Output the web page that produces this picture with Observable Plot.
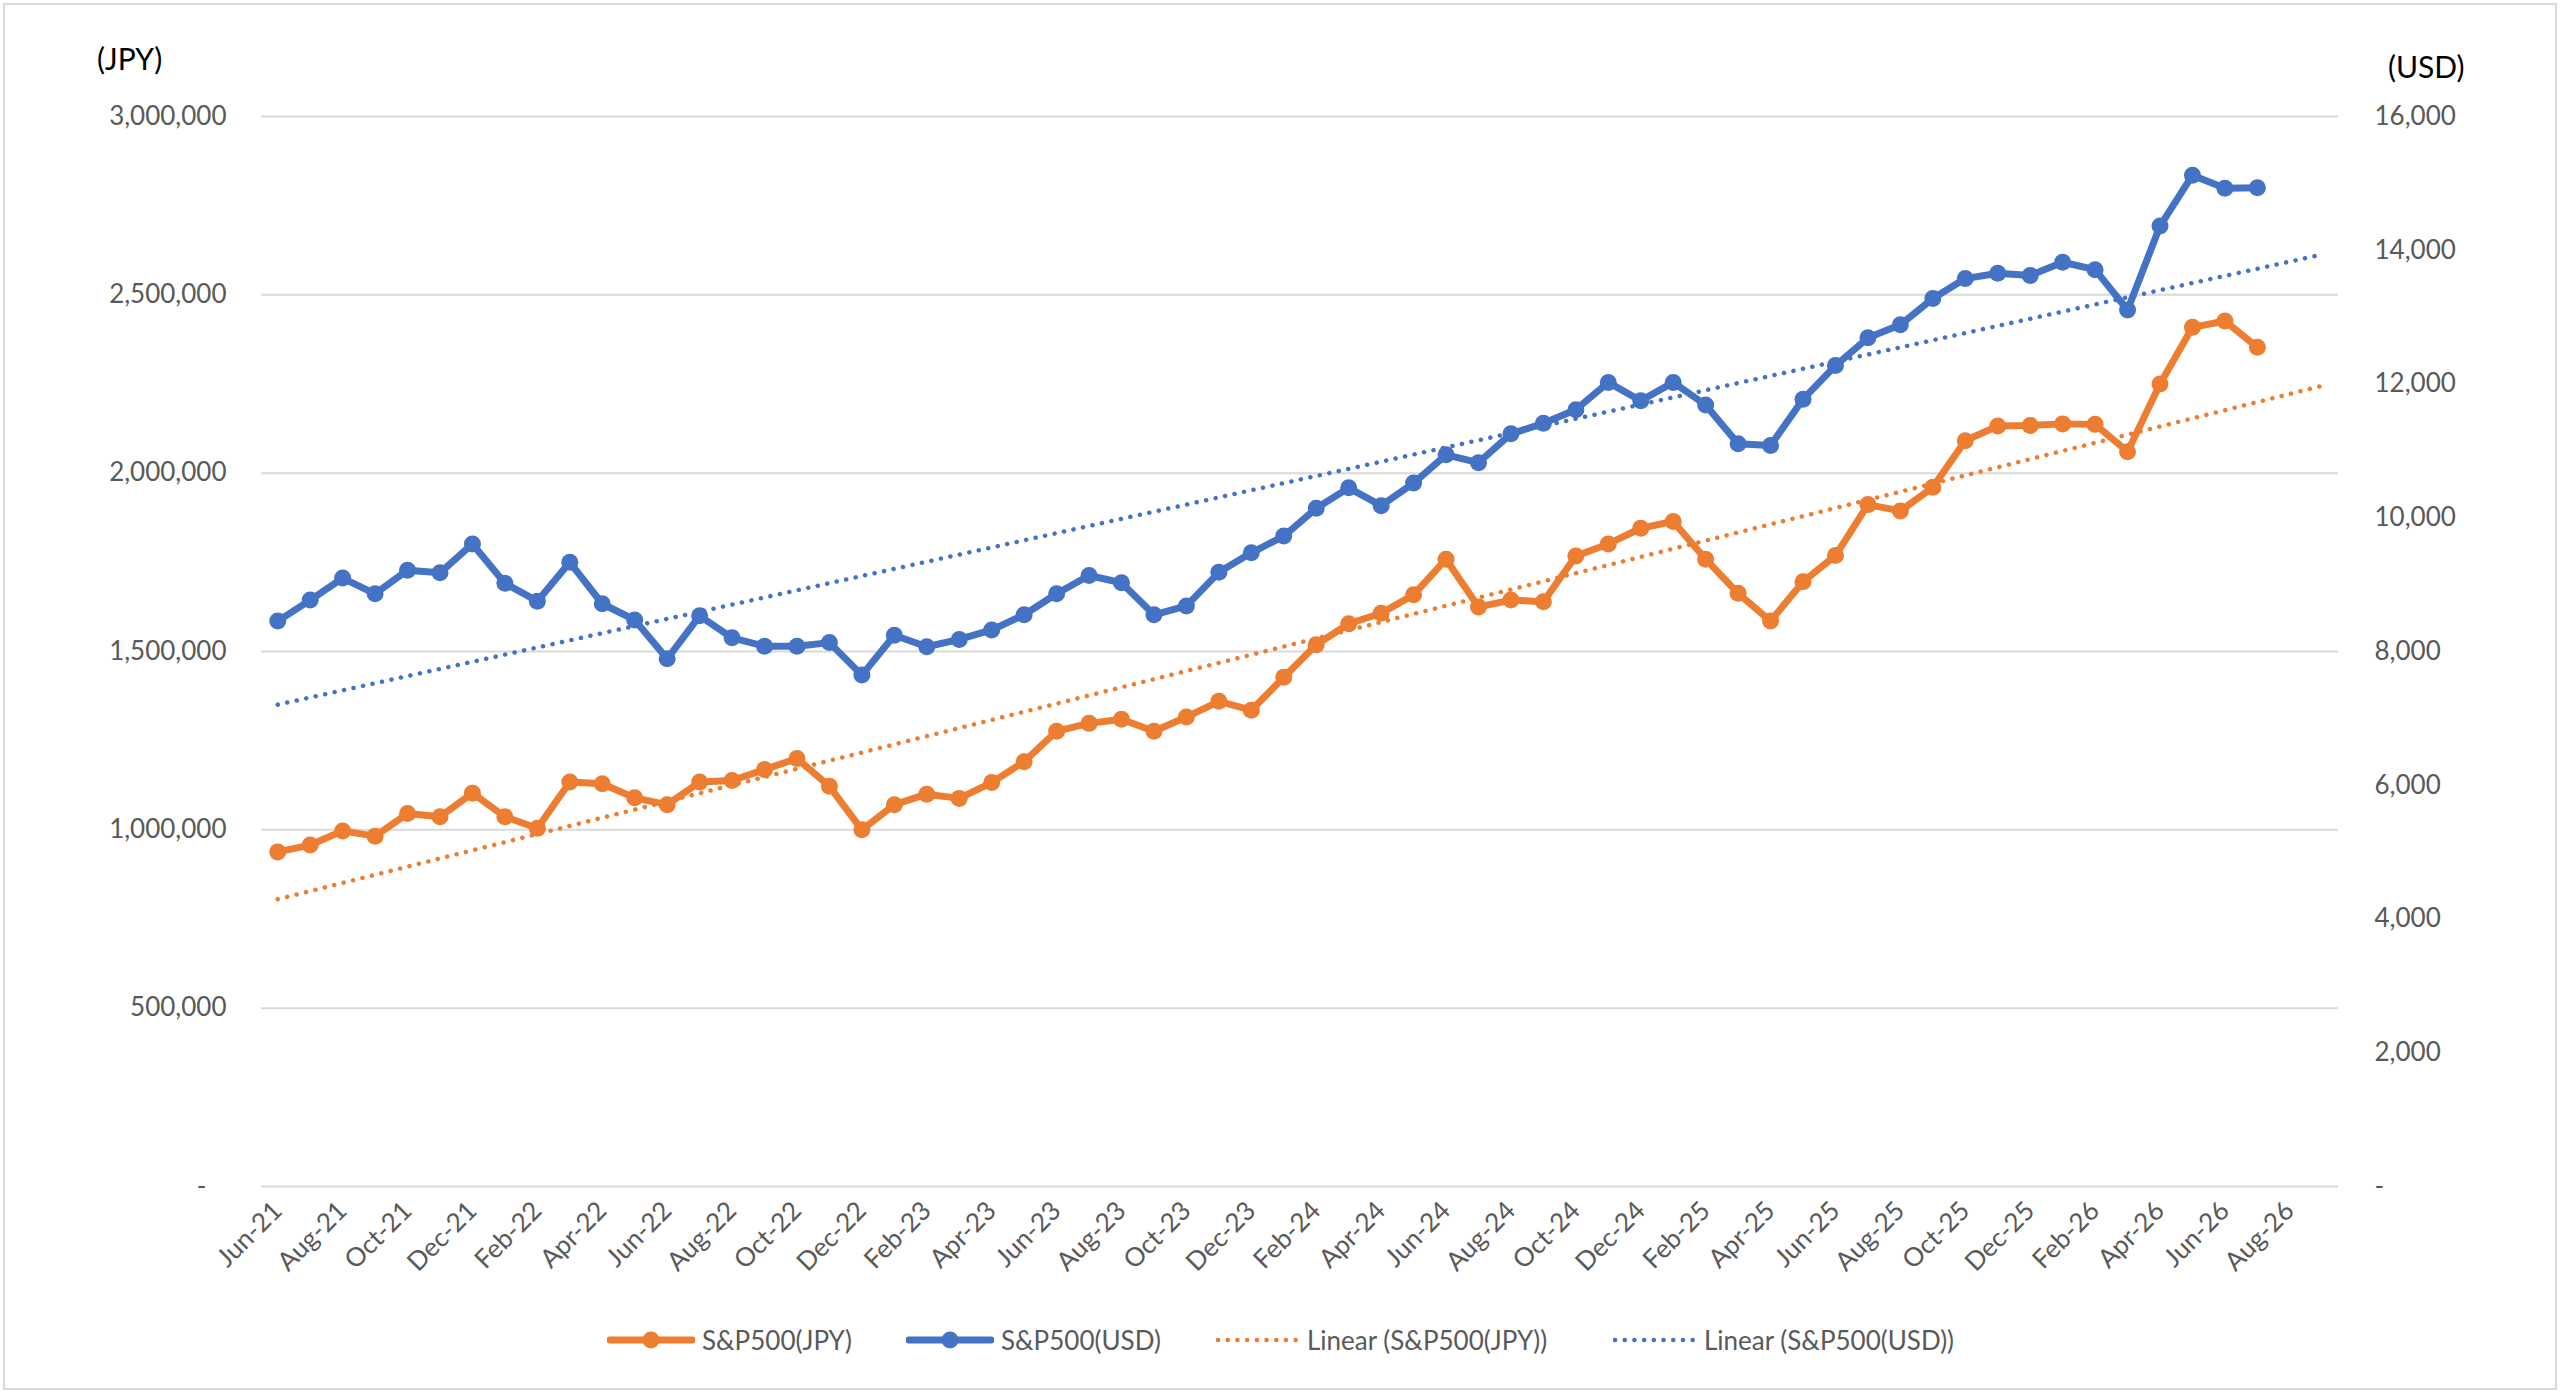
<!DOCTYPE html>
<html>
<head>
<meta charset="utf-8">
<script src="https://cdn.jsdelivr.net/npm/d3@7"></script>
<script src="https://cdn.jsdelivr.net/npm/@observablehq/plot@0.6"></script>
<style>
  html, body { margin: 0; padding: 0; background: #fff; overflow: hidden; }
  #wrap { position: relative; width: 2560px; height: 1391px; font-family: Lato, "Open Sans", sans-serif; }
  #frame { position: absolute; left: 3px; top: 3px; width: 2550px; height: 1383px; border: 2px solid #d9d9d9; pointer-events: none; }
  #chart { position: absolute; left: 0; top: 0; }
  .unit { position: absolute; font-size: 30px; color: #000; line-height: 1; }
  .leg { position: absolute; top: 1323px; height: 34px; display: flex; align-items: center; font-size: 26px; color: #595959; white-space: nowrap; }
  .leg svg { margin-right: 7px; }
</style>
</head>
<body>
<div id="wrap">
  <div id="chart"></div>
  <div class="unit" style="left:97px; top:43px;">(JPY)</div>
  <div class="unit" style="left:2388px; top:51px;">(USD)</div>
  <div id="legend"></div>
  <div id="frame"></div>
</div>
<script>
// Categories (monthly, Jun-21 .. Sep-26)
const months = ["Jun-21","Jul-21","Aug-21","Sep-21","Oct-21","Nov-21","Dec-21","Jan-22","Feb-22","Mar-22","Apr-22","May-22",
  "Jun-22","Jul-22","Aug-22","Sep-22","Oct-22","Nov-22","Dec-22","Jan-23","Feb-23","Mar-23","Apr-23","May-23",
  "Jun-23","Jul-23","Aug-23","Sep-23","Oct-23","Nov-23","Dec-23","Jan-24","Feb-24","Mar-24","Apr-24","May-24",
  "Jun-24","Jul-24","Aug-24","Sep-24","Oct-24","Nov-24","Dec-24","Jan-25","Feb-25","Mar-25","Apr-25","May-25",
  "Jun-25","Jul-25","Aug-25","Sep-25","Oct-25","Nov-25","Dec-25","Jan-26","Feb-26","Mar-26","Apr-26","May-26",
  "Jun-26","Jul-26","Aug-26","Sep-26"];

// S&P500 in JPY (left axis)
const jpy = [938200, 957300, 997000, 982300, 1045600, 1036700, 1102900, 1036700, 1004400, 1133800, 1129400, 1089700,
  1070600, 1133800, 1138200, 1169100, 1200000, 1122000, 1000000, 1070600, 1100000, 1088200, 1132400, 1191200,
  1276500, 1298500, 1310300, 1276500, 1316200, 1360300, 1335300, 1427900, 1519100, 1577900, 1607300, 1658800,
  1758800, 1625000, 1644100, 1639700, 1767600, 1801500, 1845600, 1864700, 1758800, 1663200, 1585300, 1695600,
  1769100, 1911800, 1894100, 1960300, 2091200, 2132400, 2133800, 2138200, 2136800, 2060300, 2250000, 2408800,
  2426500, 2352900];

// S&P500 in USD (right axis)
const usd = [8455, 8769, 9098, 8863, 9216, 9177, 9608, 9020, 8753, 9333, 8714, 8471,
  7890, 8533, 8204, 8079, 8079, 8133, 7647, 8243, 8071, 8181, 8322, 8549,
  8863, 9137, 9028, 8549, 8682, 9184, 9475, 9726, 10141, 10447, 10181, 10518,
  10941, 10824, 11255, 11412, 11616, 12024, 11749, 12024, 11686, 11106, 11082, 11773,
  12275, 12690, 12886, 13278, 13576, 13655, 13624, 13820, 13710, 13106, 14361, 15122,
  14926, 14933];

// Axis ticks
const leftTicks = [0, 500000, 1000000, 1500000, 2000000, 2500000, 3000000];
const rightTicks = [0, 2000, 4000, 6000, 8000, 10000, 12000, 14000, 16000];
const xTickLabels = months.filter((d, i) => i % 2 === 0);

const seriesNames = ["S&P500(JPY)", "S&P500(USD)", "Linear (S&P500(JPY))", "Linear (S&P500(USD))"];
const colors = ["#ED7D31", "#4472C4"];

// right axis maps 0..16,000 USD onto 0..3,000,000 JPY
const K = 3000000 / 16000;

const data = jpy.map((v, i) => ({m: months[i], jpy: v, usd: usd[i]}));

// least-squares trend, extended across the whole category axis
function trend(vals) {
  const xs = d3.range(vals.length);
  const mx = d3.mean(xs), my = d3.mean(vals);
  const b = d3.sum(xs, (x, i) => (x - mx) * (vals[i] - my)) / d3.sum(xs, x => (x - mx) ** 2);
  const a = my - b * mx;
  return [0, months.length - 1].map(i => ({m: months[i], v: a + b * i}));
}
const trendJ = trend(jpy);
const trendU = trend(usd).map(d => ({m: d.m, v: d.v * K}));

const fmt = d3.format(",");
const dotted = {strokeWidth: 4.5, strokeDasharray: "0.1 9.6", strokeLinecap: "round"};

const chart = Plot.plot({
  width: 2560,
  height: 1290,
  marginTop: 116,
  marginBottom: 104,
  marginLeft: 261,
  marginRight: 222,
  style: {fontFamily: "Lato, 'Open Sans', sans-serif", fontSize: "26px", color: "#595959", background: "transparent", overflow: "visible"},
  x: {type: "point", domain: months, padding: 0.5, round: false},
  y: {domain: [0, 3000000]},
  marks: [
    Plot.gridY(leftTicks, {stroke: "#d9d9d9", strokeOpacity: 1, strokeWidth: 2}),
    Plot.axisY(leftTicks, {anchor: "left", tickSize: 0, tickPadding: 35, label: null,
      tickFormat: d => d === 0 ? "-\u00a0\u00a0\u00a0" : fmt(d), fill: "#595959"}),
    Plot.axisY(rightTicks.map(v => v * K), {anchor: "right", tickSize: 0, tickPadding: 36, label: null,
      tickFormat: d => d === 0 ? "-" : fmt(Math.round(d / K)), fill: "#595959"}),
    Plot.axisX(xTickLabels, {tickSize: 0, tickRotate: -45, tickPadding: 20, label: null, fill: "#595959"}),
    Plot.line(data, {x: "m", y: "jpy", stroke: colors[0], strokeWidth: 7, strokeLinejoin: "round"}),
    Plot.dot(data, {x: "m", y: "jpy", fill: colors[0], r: 8.5}),
    Plot.line(data, {x: "m", y: d => d.usd * K, stroke: colors[1], strokeWidth: 7, strokeLinejoin: "round"}),
    Plot.dot(data, {x: "m", y: d => d.usd * K, fill: colors[1], r: 8.5}),
    Plot.line(trendJ, {x: "m", y: "v", stroke: colors[0], ...dotted}),
    Plot.line(trendU, {x: "m", y: "v", stroke: colors[1], ...dotted})
  ]
});
document.getElementById("chart").appendChild(chart);

// Legend
const legendPos = [607, 906, 1216, 1613];
const legend = document.getElementById("legend");
seriesNames.forEach((name, i) => {
  const c = colors[i % 2];
  const isTrend = i >= 2;
  const w = isTrend ? 84 : 88;
  const item = document.createElement("div");
  item.className = "leg";
  item.style.left = legendPos[i] + "px";
  const svg = d3.create("svg").attr("width", w).attr("height", 34);
  if (isTrend) {
    svg.append("line").attr("x1", 2).attr("x2", w - 2).attr("y1", 17).attr("y2", 17)
      .attr("stroke", c).attr("stroke-width", 4.5).attr("stroke-dasharray", "0.1 9.6").attr("stroke-linecap", "round");
  } else {
    svg.append("line").attr("x1", 3).attr("x2", w - 3).attr("y1", 17).attr("y2", 17)
      .attr("stroke", c).attr("stroke-width", 7).attr("stroke-linecap", "round");
    svg.append("circle").attr("cx", w / 2).attr("cy", 17).attr("r", 8.5).attr("fill", c);
  }
  item.appendChild(svg.node());
  const t = document.createElement("span");
  t.textContent = name;
  item.appendChild(t);
  legend.appendChild(item);
});
</script>
</body>
</html>
